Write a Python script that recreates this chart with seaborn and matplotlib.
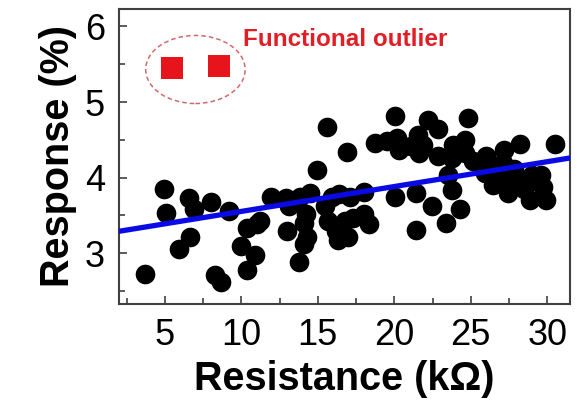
import matplotlib
matplotlib.use("Agg")
import matplotlib.pyplot as plt
from matplotlib.patches import Ellipse
from matplotlib.ticker import MultipleLocator
import seaborn as sns
import pandas as pd

# ---- data ----
resistance = [
    3.73, 4.95, 5.10, 5.92, 6.62, 6.55, 6.90, 8.00, 8.30, 8.65, 9.20,
    9.95, 10.40, 10.90, 10.35, 11.00, 11.20, 11.95, 12.95, 13.00, 13.10,
    13.60, 13.85, 13.75, 14.10, 14.30, 14.10, 14.20, 14.50, 14.95, 15.60,
    15.50, 15.70, 15.90, 16.20, 16.30, 16.40, 16.90, 17.00, 17.30, 16.80,
    17.10, 18.00, 18.00, 18.35,
    18.74, 19.50, 20.05, 20.15, 20.30, 20.05, 21.10, 21.55, 21.90, 21.60,
    21.45, 21.40, 22.20, 22.87, 22.87, 22.45, 23.40, 23.50, 23.75, 23.75,
    23.85, 24.30, 24.60, 24.60, 24.85, 25.16,
    26.00, 25.90, 26.45, 27.20, 27.10, 26.90, 27.45, 28.10, 28.20, 29.00,
    29.60, 28.85, 29.95, 29.70, 30.50, 27.80, 28.50, 26.60, 27.60, 29.30,
]
response = [
    2.72, 3.85, 3.53, 3.05, 3.21, 3.73, 3.58, 3.68, 2.71, 2.62, 3.56,
    3.09, 2.78, 2.98, 3.33, 3.38, 3.42, 3.74, 3.73, 3.30, 3.62,
    3.70, 3.74, 2.88, 3.12, 3.22, 3.40, 3.52, 3.80, 4.10, 4.67,
    3.62, 3.42, 3.75, 3.30, 3.17, 3.78, 4.34, 3.22, 3.47, 3.42,
    3.75, 3.81, 3.52, 3.38,
    4.46, 4.48, 4.82, 4.52, 4.37, 3.75, 4.42, 4.56, 4.43, 4.32,
    3.79, 3.31, 4.76, 4.64, 4.28, 3.62, 3.40, 4.03, 3.84, 4.26,
    4.43, 3.59, 4.50, 4.32, 4.79, 4.22,
    4.28, 4.06, 3.90, 4.37, 4.19, 3.97, 3.80, 3.99, 4.45, 4.04,
    4.04, 3.70, 3.70, 3.88, 4.45, 4.12, 3.85, 4.15, 3.92, 3.95,
]
outlier_resistance = [5.48, 8.57]
outlier_response = [5.45, 5.48]
fit_resistance = [2.0, 31.5]
fit_response = [3.29, 4.26]

outlier_label = "Functional outlier"
xlabel = "Resistance (kΩ)"
ylabel = "Response (%)"

# ---- style ----
sns.set_style("ticks")
plt.rcParams["font.family"] = ["Liberation Sans", "DejaVu Sans"]

fig = plt.figure(figsize=(5.83, 4.09), dpi=100)
ax = fig.add_axes([0.204, 0.257, 0.774, 0.721])

pts = pd.DataFrame({"Resistance": resistance, "Response": response})
out = pd.DataFrame({"Resistance": outlier_resistance, "Response": outlier_response})
fit = pd.DataFrame({"Resistance": fit_resistance, "Response": fit_response})

sns.scatterplot(data=pts, x="Resistance", y="Response", ax=ax, s=200,
                color="black", edgecolor="black", linewidth=0, zorder=2)
sns.scatterplot(data=out, x="Resistance", y="Response", ax=ax, s=240,
                marker="s", color="#e8141c", edgecolor="#e8141c", linewidth=0,
                zorder=3)
sns.lineplot(data=fit, x="Resistance", y="Response", ax=ax, color="#0a0ae6",
             linewidth=3.8, zorder=4)

ell = Ellipse((7.0, 5.43), width=6.5, height=0.9, fill=False,
              edgecolor="#c85050", linestyle=(0, (3, 2)), linewidth=1.1,
              alpha=0.85, zorder=3)
ax.add_patch(ell)
ax.text(10.1, 5.83, outlier_label, color="#e01e26", fontsize=17.5,
        fontweight="bold", ha="left", va="center")

ax.set_xlim(2.0, 31.5)
ax.set_ylim(2.33, 6.23)
ax.xaxis.set_major_locator(MultipleLocator(5))
ax.xaxis.set_minor_locator(MultipleLocator(2.5))
ax.yaxis.set_major_locator(MultipleLocator(1))
ax.yaxis.set_minor_locator(MultipleLocator(0.5))
ax.tick_params(which="both", direction="in", top=False, right=False,
               color="#404040", width=1.2)
ax.tick_params(which="major", length=6, labelsize=26, pad=10,
               labelcolor="black")
ax.tick_params(which="minor", length=4)
for sp in ax.spines.values():
    sp.set_color("#404040")
    sp.set_linewidth(1.5)

ax.set_xlabel(xlabel, fontsize=28.5, fontweight="bold", labelpad=5,
              color="black")
ax.set_ylabel(ylabel, fontsize=28.5, fontweight="bold", labelpad=6,
              color="black")

fig.savefig("out.png", dpi=100)
